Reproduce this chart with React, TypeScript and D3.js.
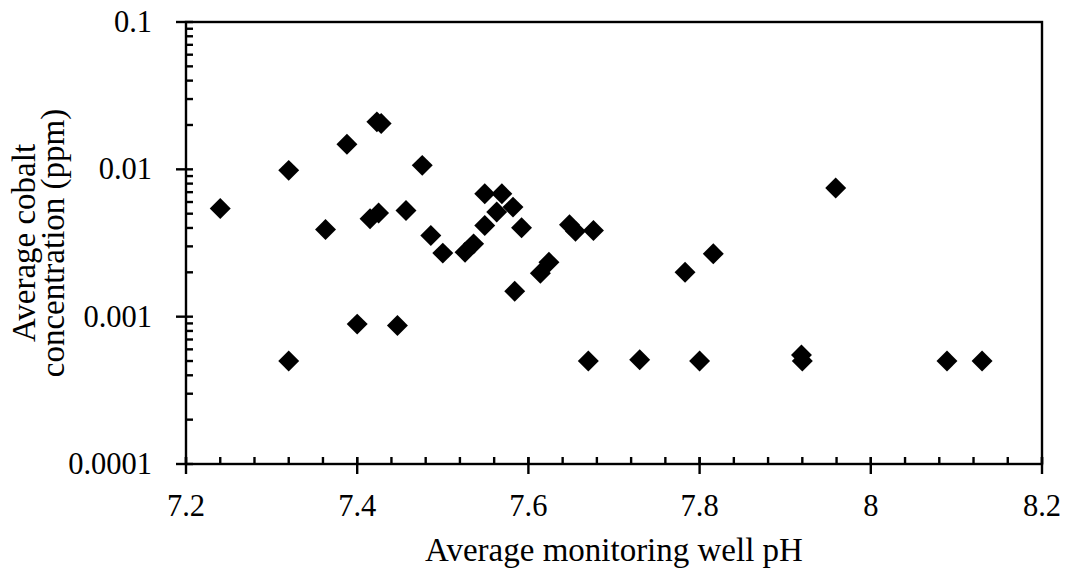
import React from "react";
import * as d3 from "d3";

const phValues: number[] = [
  7.24, 7.32, 7.32, 7.363, 7.388, 7.4, 7.415, 7.423, 7.425, 7.428, 7.447, 7.457,
  7.476, 7.486, 7.5, 7.526, 7.536, 7.549, 7.549, 7.563, 7.569, 7.582, 7.584,
  7.592, 7.614, 7.624, 7.648, 7.655, 7.67, 7.676, 7.73, 7.783, 7.8, 7.816,
  7.919, 7.92, 7.959, 8.089, 8.13,
];
const cobaltValues: number[] = [
  0.00543, 0.00984, 0.0005, 0.00391, 0.0148, 0.00089, 0.00462, 0.0210, 0.00505,
  0.0205, 0.00087, 0.00526, 0.01064, 0.00356, 0.0027, 0.00274, 0.00312, 0.00683,
  0.00416, 0.00513, 0.00683, 0.00554, 0.00149, 0.00401, 0.00197, 0.00234,
  0.0042, 0.0038, 0.0005, 0.00385, 0.00051, 0.002, 0.0005, 0.00267, 0.00055,
  0.0005, 0.00746, 0.0005, 0.0005,
];
const xTicks: number[] = [7.2, 7.4, 7.6, 7.8, 8, 8.2];
const yTicks: number[] = [0.0001, 0.001, 0.01, 0.1];
const yTickLabels: string[] = ["0.0001", "0.001", "0.01", "0.1"];
const xTitle = "Average monitoring well pH";
const yTitleLines: string[] = ["Average cobalt", "concentration (ppm)"];

const W = 1066;
const H = 572;
const left = 186;
const right = 1042;
const top = 22;
const bottom = 464;
const FONT = "'Liberation Serif', serif";
const FS = 30.5;
const TFS = 33;

export default function App() {
  const x = d3.scaleLinear().domain([7.2, 8.2]).range([left, right]);
  const y = d3.scaleLog().domain([0.0001, 0.1]).range([bottom, top]);

  const xMinor = d3.range(0, 26).map((i) => 7.2 + i * 0.04);
  const yMinor: number[] = [];
  for (let e = -4; e < -1; e++) {
    for (let k = 2; k <= 9; k++) yMinor.push(k * Math.pow(10, e));
  }
  const diamond = d3.symbol().type(d3.symbolDiamond2).size(280)();
  const sw = 2.4;

  return (
    <svg
      width={W}
      height={H}
      style={{ position: "absolute", left: 0, top: 0, background: "#fff" }}
      fontFamily={FONT}
    >
      <rect x={0} y={0} width={W} height={H} fill="#fff" />
      <rect x={left} y={top} width={right - left} height={bottom - top} fill="none" stroke="#000" strokeWidth={sw} />
      {xMinor.map((v, i) => (
        <line key={"xm" + i} x1={x(v)} x2={x(v)} y1={bottom} y2={bottom - 7} stroke="#000" strokeWidth={sw} />
      ))}
      {xTicks.map((v, i) => (
        <g key={"xt" + i}>
          <line x1={x(v)} x2={x(v)} y1={bottom - 7} y2={bottom + 10} stroke="#000" strokeWidth={sw} />
          <text x={x(v)} y={516} textAnchor="middle" fontSize={FS} fill="#000">
            {String(v)}
          </text>
        </g>
      ))}
      {yMinor.map((v, i) => (
        <line key={"ym" + i} x1={left} x2={left + 7} y1={y(v)} y2={y(v)} stroke="#000" strokeWidth={sw} />
      ))}
      {yTicks.map((v, i) => (
        <g key={"yt" + i}>
          <line x1={left - 10} x2={left + 7} y1={y(v)} y2={y(v)} stroke="#000" strokeWidth={sw} />
          <text x={152} y={y(v)} dy="0.33em" textAnchor="end" fontSize={FS} fill="#000">
            {yTickLabels[i]}
          </text>
        </g>
      ))}
      {phValues.map((v, i) => (
        <path key={"p" + i} d={diamond!} transform={`translate(${x(v)},${y(cobaltValues[i])})`} fill="#000" />
      ))}
      <text x={(left + right) / 2} y={561} textAnchor="middle" fontSize={TFS} fill="#000">
        {xTitle}
      </text>
      {yTitleLines.map((t, i) => (
        <text
          key={"yl" + i}
          transform={`translate(${35 + i * 29},${(top + bottom) / 2}) rotate(-90)`}
          textAnchor="middle"
          fontSize={TFS}
          fill="#000"
        >
          {t}
        </text>
      ))}
    </svg>
  );
}
